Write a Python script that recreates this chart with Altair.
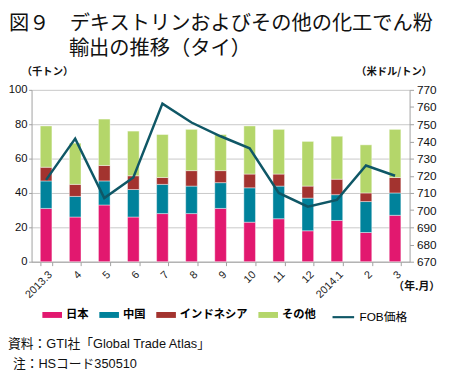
import altair as alt
import pandas as pd

months = ["2013.3", "4", "5", "6", "7", "8", "9", "10", "11", "12", "2014.1", "2", "3"]
japan = [31, 26, 33, 26, 28, 28, 31, 23, 25, 18, 24, 17, 27]
china = [16, 12, 14, 16, 17, 16, 15, 20, 19, 19, 15, 18, 13]
indonesia = [8, 7, 9, 8, 4, 9, 7, 8, 7, 7, 9, 5, 9]
others = [24, 24, 27, 26, 25, 24, 21, 28, 26, 26, 25, 28, 28]
fob = [717.6, 741.6, 707, 719, 762, 751, 743, 736, 710, 702, 706, 726, 720]

series = ["日本", "中国", "インドネシア", "その他"]
colors = ["#E2186F", "#00829B", "#A3332F", "#B4D66A"]
line_name = "FOB価格"
line_color = "#0F5766"

title1 = "図９　デキストリンおよびその他の化工でん粉"
title2 = "輸出の推移（タイ）"
unit_left = "（千トン）"
unit_right = "（米ドル/トン）"
unit_x = "（年.月）"
note1 = "資料：GTI社「Global Trade Atlas」"
note2 = "注：HSコード350510"

rows = []
for i, m in enumerate(months):
    for k, (s, vals) in enumerate(zip(series, [japan, china, indonesia, others])):
        rows.append({"month": m, "series": s, "value": vals[i], "order": k})
bars_df = pd.DataFrame(rows)
line_df = pd.DataFrame({"month": months, "price": fob, "name": [line_name] * len(months)})

FONT = "Liberation Sans, Noto Sans CJK JP, sans-serif"
JFONT = "Noto Sans CJK JP, sans-serif"
AXC = "#A0A0A0"

x_enc = alt.X(
    "month:N", sort=months, title=None,
    scale=alt.Scale(paddingInner=0.6, paddingOuter=0.3),
    axis=alt.Axis(labelAngle=-45, tickBand="extent", domainColor=AXC, tickColor=AXC,
                  tickSize=4, labelFontSize=11, labelColor="#222", labelPadding=3),
)

bars = alt.Chart(bars_df).mark_bar(stroke="white", strokeWidth=0.6, strokeOpacity=0.7).encode(
    x=x_enc,
    y=alt.Y("value:Q", stack="zero", title=None,
            scale=alt.Scale(domain=[0, 100]),
            axis=alt.Axis(values=[0, 20, 40, 60, 80, 100], grid=True, gridColor="#C8C8C8",
                          domainColor=AXC, tickColor=AXC, tickSize=3, labelFontSize=11.5,
                          labelColor="#111", labelPadding=1.5)),
    color=alt.Color("series:N", scale=alt.Scale(domain=series, range=colors),
                    legend=alt.Legend(orient="none", legendX=11, legendY=219, direction="horizontal",
                                      columns=4, title=None, symbolType="M-1,-0.3H1V0.3H-1Z",
                                      symbolSize=400, symbolStrokeWidth=0, labelFontWeight="bold",
                                      labelFontSize=11.5, labelFont=JFONT, columnPadding=11,
                                      labelOffset=4, padding=0)),
    order=alt.Order("order:Q"),
)

line = alt.Chart(line_df).mark_line(strokeWidth=2.5).encode(
    x=x_enc,
    y=alt.Y("price:Q", title=None, scale=alt.Scale(domain=[670, 770]),
            axis=alt.Axis(orient="right", values=list(range(670, 771, 10)), grid=False,
                          domainColor=AXC, tickColor=AXC, tickSize=4, labelFontSize=12,
                          labelColor="#111", labelPadding=3)),
    stroke=alt.Stroke("name:N", scale=alt.Scale(domain=[line_name], range=[line_color]),
                      legend=alt.Legend(orient="none", legendX=305, legendY=219, title=None,
                                        symbolType="stroke", symbolSize=484, symbolStrokeWidth=2.2,
                                        labelFontSize=12, labelFont=FONT, labelOffset=4, padding=0)),
)


def txt(s, x, y, size, weight="normal", align="left", font=JFONT):
    return alt.Chart(pd.DataFrame({"t": [s]})).mark_text(
        align=align, baseline="middle", fontSize=size, fontWeight=weight, font=font, color="#111"
    ).encode(text="t:N", x=alt.value(x), y=alt.value(y))


texts = [
    txt(title1, -23, -67, 20.6),
    txt(title2, 38, -42, 20.6),
    txt(unit_left, -10, -18, 10.5, "bold"),
    txt(unit_right, 408, -18, 10.5, "bold", "right"),
    txt(unit_x, 416, 201, 11, "bold", "right"),
    txt(note1, -24, 259, 13, font=FONT),
    txt(note2, -19, 279, 13, font=FONT),
]

chart = alt.layer(bars, line, *texts).resolve_scale(y="independent", color="independent").properties(
    width=385, height=175,
    autosize=alt.AutoSizeParams(type="none"),
    padding={"left": 24, "top": 80, "right": 33, "bottom": 111},
    background="white",
).configure_view(stroke=None).configure_axis(labelFont=FONT)

chart.save("out.html", embed_options={"renderer": "svg", "actions": False})
